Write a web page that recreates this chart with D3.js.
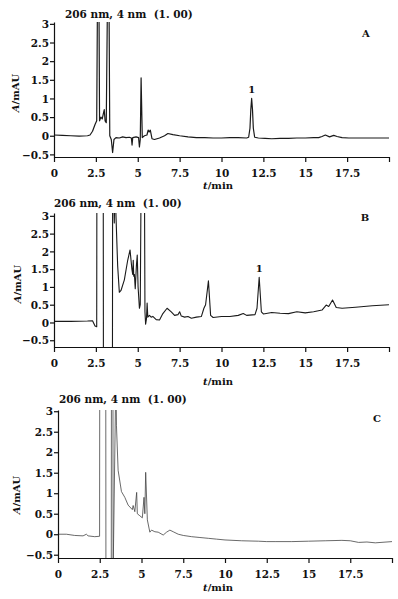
<!DOCTYPE html>
<html>
<head>
<meta charset="utf-8">
<script src="https://cdn.jsdelivr.net/npm/d3@7"></script>
<style>
  body { margin: 0; background: #fff; }
  svg text { font-family: "DejaVu Serif", serif; font-weight: bold; fill: #111; }
</style>
</head>
<body>
<div id="chart"></div>
<script>
// Panel A chromatogram (time in min, absorbance in mAU)
const timeA = [0, 0.5, 1.0, 1.5, 2.0, 2.15, 2.3, 2.45, 2.55, 2.6, 2.68, 2.72, 2.8, 2.88, 2.95, 3.0, 3.05, 3.12,
  3.2, 3.28, 3.33, 3.42, 3.5, 3.58, 3.7, 3.9, 4.1, 4.3, 4.5, 4.62, 4.66, 4.7, 4.9, 5.05, 5.1, 5.15, 5.2, 5.27,
  5.4, 5.55, 5.62, 5.68, 5.75, 5.85, 6.0, 6.3, 6.6, 6.8, 7.1, 7.5, 8.0, 8.5, 9.0, 9.5, 10, 10.5, 11, 11.5,
  11.62, 11.7, 11.75, 11.8, 11.85, 11.9, 11.98, 12.2, 12.6, 13, 13.5, 14, 14.5, 15, 15.5, 15.8, 16.0, 16.2,
  16.45, 16.7, 16.9, 17.2, 17.6, 18, 18.5, 19, 19.5, 20];
const valueA = [0.02, 0.01, 0.0, -0.01, 0.0, 0.02, 0.12, 0.3, 0.4, 4, 4, 0.4, 0.5, 0.45, 0.6, 0.7, 0.4, 0.35,
  4, 4, 0.0, -0.1, -0.45, -0.1, -0.05, -0.06, -0.03, -0.05, -0.04, -0.06, -0.25, -0.05, -0.03, -0.05, -0.3, -0.1, 1.55, -0.05,
  0.0, 0.02, 0.15, 0.1, 0.15, -0.08, -0.1, -0.06, 0.0, 0.06, 0.03, 0.0, -0.03, -0.05, -0.05, -0.06, -0.06, -0.05, -0.05, -0.06,
  -0.04, 0.2, 0.7, 1.0, 0.7, 0.2, -0.04, -0.06, -0.07, -0.08, -0.07, -0.07, -0.06, -0.06, -0.05, -0.05, -0.02, 0.02,
  -0.03, 0.01, -0.02, -0.05, -0.06, -0.06, -0.06, -0.06, -0.06, -0.06];

// Panel B chromatogram
const timeB = [0, 1, 2, 2.3, 2.45, 2.55, 2.56, 2.94, 2.95, 3.49, 3.5, 3.55, 3.6, 3.65, 3.7, 3.8, 3.9, 4.0, 4.2,
  4.4, 4.54, 4.65, 4.7, 4.73, 4.76, 4.8, 4.85, 4.92, 4.97, 5.02, 5.1, 5.15, 5.2, 5.4, 5.43, 5.47, 5.52, 5.56,
  5.6, 5.7, 5.8, 5.9, 6.1, 6.3, 6.5, 6.75, 7.0, 7.2, 7.4, 7.5, 7.6, 7.8, 8.0, 8.2, 8.5, 8.8, 8.95, 9.05, 9.22,
  9.35, 9.5, 10, 10.5, 11, 11.3, 11.5, 12.0, 12.12, 12.25, 12.38, 12.5, 13, 13.5, 14, 14.5, 15, 15.5, 16,
  16.25, 16.4, 16.63, 16.85, 17.2, 18, 18.5, 19, 20];
const valueB = [0.03, 0.03, 0.04, 0.05, -0.1, -0.12, 4, 4, -1, -1, 4, 4, 2.8, 4, 3.0, 1.6, 0.85, 0.9, 1.2,
  1.75, 2.04, 1.5, 1.35, 1.75, 1.3, 1.35, 0.95, 1.6, 1.9, 1.0, 0.4, 0.5, 4, 4, 0.3, -0.05, 0.1, 0.55,
  0.15, 0.2, 0.15, 0.17, 0.08, 0.07, 0.25, 0.4, 0.3, 0.2, 0.22, 0.3, 0.18, 0.15, 0.17, 0.12, 0.15, 0.17, 0.4, 0.5, 1.17,
  0.2, 0.14, 0.17, 0.17, 0.2, 0.25, 0.2, 0.22, 0.4, 1.27, 0.3, 0.24, 0.28, 0.26, 0.25, 0.3, 0.27, 0.3, 0.35,
  0.49, 0.45, 0.63, 0.42, 0.4, 0.43, 0.45, 0.47, 0.5];

// Panel C chromatogram
const timeC = [0, 0.5, 1.0, 1.5, 1.7, 1.8, 2.2, 2.49, 2.5, 2.86, 2.87, 3.19, 3.2, 3.29, 3.3, 3.47, 3.5, 3.6,
  3.8, 4.0, 4.2, 4.45, 4.5, 4.6, 4.71, 4.75, 4.9, 5.05, 5.15, 5.2, 5.25, 5.35, 5.45, 5.5, 5.6, 5.8, 6.0,
  6.3, 6.5, 6.7, 6.9, 7.2, 7.5, 8, 8.5, 9, 9.5, 10, 11, 12, 12.5, 13, 14, 15, 16, 17, 17.5, 18, 18.5, 19, 20];
const valueC = [0.0, 0.0, -0.03, -0.04, 0.0, -0.04, -0.06, -0.05, 4, 4, -1, -1, 4, 4, -1, 4, 2.66, 1.56,
  1.04, 0.9, 0.71, 0.6, 0.7, 0.55, 1.02, 0.5, 0.45, 0.4, 0.9, 0.5, 1.51, 0.35, 0.15, 0.05, 0.1, 0.06, 0.05,
  -0.02, 0.05, 0.1, 0.06, 0.0, -0.03, -0.06, -0.08, -0.1, -0.12, -0.14, -0.16, -0.17, -0.18, -0.18, -0.18, -0.17, -0.16, -0.15, -0.16, -0.2, -0.19, -0.21, -0.18];

const xTicks = [0, 2.5, 5, 7.5, 10, 12.5, 15, 17.5, 20];
const xTickLabels = ['0', '2.5', '5', '7.5', '10', '12.5', '15', '17.5', ''];
const yTicks = [-0.5, 0, 0.5, 1, 1.5, 2, 2.5, 3];
const yTickLabels = ['\u22120.5', '0', '0.5', '1', '1.5', '2', '2.5', '3'];
const titleText = '206 nm, 4 nm\u00A0\u00A0(1. 00)';

const width = 398, height = 599;
const svg = d3.select('#chart').append('svg')
  .attr('width', width)
  .attr('height', height);

function drawPanel(p) {
  const x = d3.scaleLinear().domain([0, 20]).range([p.left, p.right]);
  const y = d3.scaleLinear().domain(p.yDomain).range([p.bottom, p.top]);
  const g = svg.append('g');

  // clip so off-scale peaks stop at the frame
  g.append('clipPath').attr('id', 'clip' + p.name)
    .append('rect')
    .attr('x', p.left).attr('y', p.top)
    .attr('width', p.right - p.left).attr('height', p.bottom - p.top);

  const data = p.times.map((t, i) => ({ t: t, v: p.values[i] }));
  g.append('path')
    .datum(data)
    .attr('clip-path', `url(#clip${p.name})`)
    .attr('fill', 'none')
    .attr('stroke', p.color)
    .attr('stroke-width', p.lineWidth)
    .attr('stroke-linejoin', 'round')
    .attr('d', d3.line().x(d => x(d.t)).y(d => y(d.v)));

  // axes
  const xAxis = g.append('g')
    .attr('transform', `translate(0,${p.bottom})`)
    .call(d3.axisBottom(x).tickValues(xTicks).tickSize(5).tickSizeOuter(0)
      .tickFormat((d, i) => xTickLabels[i]));
  const yAxis = g.append('g')
    .attr('transform', `translate(${p.left},0)`)
    .call(d3.axisLeft(y).tickValues(yTicks).tickSize(4).tickSizeOuter(0)
      .tickFormat((d, i) => yTickLabels[i]));
  [xAxis, yAxis].forEach(a => {
    a.select('.domain').attr('stroke', '#111').attr('stroke-width', 1.2);
    a.selectAll('.tick line').attr('stroke', '#111').attr('stroke-width', 1.2);
    a.selectAll('.tick text').attr('font-size', 10.5).attr('font-family', '"DejaVu Serif", serif')
      .attr('font-weight', 'bold').attr('fill', '#111');
  });
  xAxis.selectAll('.tick text').attr('dy', '1.1em');
  yAxis.selectAll('.tick text').attr('x', -5).attr('dy', '0.35em');

  // texts
  g.append('text')
    .attr('x', p.titleX).attr('y', p.titleY)
    .attr('font-family', '"Liberation Serif", serif')
    .attr('font-size', 10.5)
    .text(titleText);

  const yl = g.append('text')
    .attr('transform', `translate(${p.yLabelX},${p.yLabelY}) rotate(-90)`)
    .attr('text-anchor', 'middle')
    .attr('font-size', 10);
  yl.append('tspan').attr('font-style', 'italic').text('A');
  yl.append('tspan').text('/mAU');

  const xl = g.append('text')
    .attr('x', 218).attr('y', p.xLabelY)
    .attr('text-anchor', 'middle')
    .attr('font-size', 10);
  xl.append('tspan').attr('font-style', 'italic').text('t');
  xl.append('tspan').text('/min');

  g.append('text')
    .attr('x', p.letterX).attr('y', p.letterY)
    .attr('text-anchor', 'middle')
    .attr('font-size', 10)
    .text(p.name);

  if (p.peakTime != null) {
    g.append('text')
      .attr('x', x(p.peakTime)).attr('y', y(p.peakValue) - 5)
      .attr('text-anchor', 'middle')
      .attr('font-size', 10)
      .text('1');
  }
}

drawPanel({
  name: 'A', times: timeA, values: valueA, color: '#1a1a1a', lineWidth: 1.2,
  left: 54, right: 389, top: 22, bottom: 157, yDomain: [-0.57, 3.05],
  titleX: 65, titleY: 18, yLabelX: 19, yLabelY: 93, xLabelY: 189,
  letterX: 366, letterY: 37, peakTime: 11.8, peakValue: 1.0
});
drawPanel({
  name: 'B', times: timeB, values: valueB, color: '#1a1a1a', lineWidth: 1.1,
  left: 54, right: 389, top: 213, bottom: 347, yDomain: [-0.69, 3.08],
  titleX: 54, titleY: 207, yLabelX: 21, yLabelY: 284, xLabelY: 385,
  letterX: 365, letterY: 221, peakTime: 12.25, peakValue: 1.27
});
drawPanel({
  name: 'C', times: timeC, values: valueC, color: '#444', lineWidth: 0.8,
  left: 58, right: 392, top: 410, bottom: 558, yDomain: [-0.58, 3.03],
  titleX: 59, titleY: 403, yLabelX: 20, yLabelY: 495, xLabelY: 591,
  letterX: 377, letterY: 422, peakTime: null
});
</script>
</body>
</html>
